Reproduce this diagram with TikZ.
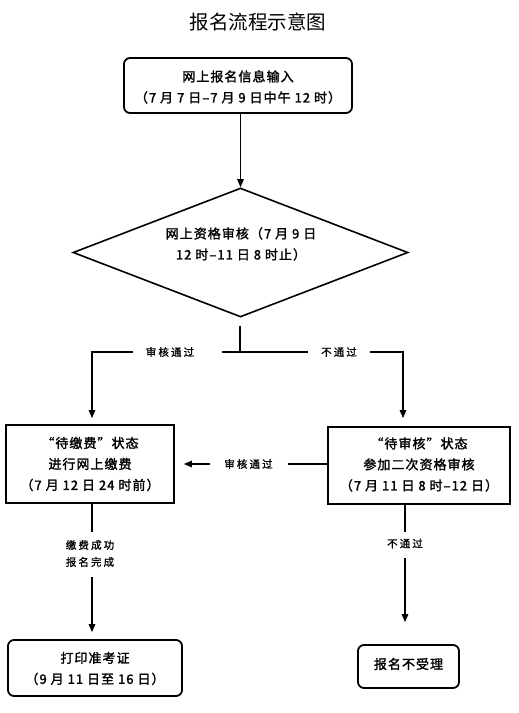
\documentclass[tikz,border=0pt]{standalone}
\usepackage{fontspec}
\usetikzlibrary{arrows.meta,shapes.geometric}
\newfontfamily\cjkt{Noto Sans CJK SC}
\newfontfamily\cjkb[FakeBold=1.8,LetterSpace=8]{Noto Sans CJK SC}
\newfontfamily\cjkl[FakeBold=1.2,LetterSpace=20]{Noto Sans CJK SC}
\begin{document}
\begin{tikzpicture}[x=1pt,y=-1pt,
  boxtext/.style={font={\cjkb\fontsize{13}{21}\selectfont}, align=center, inner sep=0pt},
  sqbox/.style={draw, line width=1.8pt, inner sep=0pt},
  rbox/.style={draw, line width=1.8pt, rounded corners=6pt, inner sep=0pt},
  lab/.style={font={\cjkl\fontsize{10.5}{17}\selectfont}, align=center, inner sep=0pt},
  conn/.style={line width=1.3pt},
  arr/.style={line width=1.3pt, -{Triangle[length=8pt,width=6.5pt]}}]
\useasboundingbox (0,0) rectangle (519,713);

% title
\node[font={\cjkt\fontsize{19.5}{22}\selectfont}, inner sep=0pt] (title) at (258,22) {报名流程示意图};

% top box
\node[rbox, minimum width=228pt, minimum height=55pt] (top) at (238,85.5) {};
\node[boxtext] (toptext) at (238,87) {网上报名信息输入\\（7 月 7 日–7 月 9 日中午 12 时）};

% diamond
\node[draw, diamond, line width=1.6pt, minimum width=335pt, minimum height=129pt, inner sep=0pt] (dia) at (240.5,252.5) {};
\node[boxtext] (diatext) at (241,244) {网上资格审核（7 月 9 日\\12 时–11 日 8 时止）};

% boxes
\node[sqbox, minimum width=168pt, minimum height=78pt] (lb) at (90,464) {};
\node[boxtext] (lbtext) at (90,464) {“待缴费”状态\\进行网上缴费\\（7 月 12 日 24 时前）};
\node[sqbox, minimum width=182pt, minimum height=77pt] (rb) at (419,465.5) {};
\node[boxtext] (rbtext) at (419,464.5) {“待审核”状态\\参加二次资格审核\\（7 月 11 日 8 时–12 日）};
\node[rbox, minimum width=174pt, minimum height=56pt] (pb) at (95,668) {};
\node[boxtext] (pbtext) at (95,668.5) {打印准考证\\（9 月 11 日至 16 日）};
\node[rbox, minimum width=101pt, minimum height=43pt] (nb) at (408.5,666.5) {};
\node[boxtext] (nbtext) at (408.5,664) {报名不受理};

% coordinates
\coordinate (j) at (240,352);
\coordinate (bl) at (92,352);
\coordinate (br) at (403,352);
\coordinate (a1) at (222,352);
\coordinate (a2) at (133,352);
\coordinate (b1) at (308,352);
\coordinate (b2) at (370,352);
\coordinate (c1) at (288,464);
\coordinate (c2) at (210,464);
\coordinate (p1) at (92,532);
\coordinate (p2) at (92,577);
\coordinate (q1) at (405,532);
\coordinate (q2) at (405,558);

% labels
\node[lab] (l1) at (170,352) {审核通过};
\node[lab] (l2) at (339,352) {不通过};
\node[lab] (l3) at (248.5,464) {审核通过};
\node[lab] (l4) at (90,553.5) {缴费成功\\报名完成};
\node[lab] (l5) at (405,543.5) {不通过};

% connectors
\draw[arr] (dia.north |- top.south) -- (dia.north);
\draw[conn, shorten <=8pt] (j |- dia.south) -- (j);
\draw[conn] (a1) -- (b1);
\draw[arr, shorten >=6pt] (a2) -- (bl) -- (bl |- lb.north);
\draw[arr, shorten >=8pt] (b2) -- (br) -- (br |- rb.north);
\draw[conn] (rb.west |- c1) -- (c1);
\draw[arr, shorten >=9pt] (c2) -- (c2 -| lb.east);
\draw[conn] (p1 |- lb.south) -- (p1);
\draw[arr, shorten >=7pt] (p2) -- (p2 |- pb.north);
\draw[conn] (q1 |- rb.south) -- (q1);
\draw[arr, shorten >=22pt] (q2) -- (q2 |- nb.north);
\end{tikzpicture}
\end{document}
